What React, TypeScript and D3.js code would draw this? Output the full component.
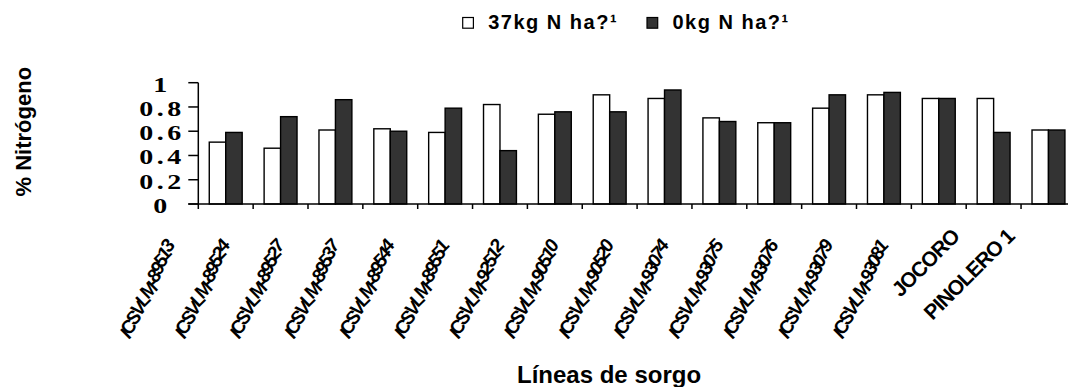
import React from "react";
import * as d3 from "d3";

const categories = [
  "ICSVLM-89513", "ICSVLM-89524", "ICSVLM-89527", "ICSVLM-89537",
  "ICSVLM-89544", "ICSVLM-89551", "ICSVLM-92512", "ICSVLM-90510",
  "ICSVLM-90520", "ICSVLM-93074", "ICSVLM-93075", "ICSVLM-93076",
  "ICSVLM-93079", "ICSVLM-93081", "JOCORO", "PINOLERO 1",
];
const n37 = [0.51, 0.46, 0.61, 0.62, 0.59, 0.82, 0.74, 0.90, 0.87, 0.71, 0.67, 0.79, 0.90, 0.87, 0.87, 0.61];
const n0 = [0.59, 0.72, 0.86, 0.60, 0.79, 0.44, 0.76, 0.76, 0.94, 0.68, 0.67, 0.90, 0.92, 0.87, 0.59, 0.61];
const seriesKeys = ["n37", "n0"];
const seriesNames = ["37kg N ha?¹", "0kg N ha?¹"];
const seriesFill = ["#ffffff", "#333333"];
const yTicks = [0, 0.2, 0.4, 0.6, 0.8, 1];
const yTickLabels = ["0", "0.2", "0.4", "0.6", "0.8", "1"];

const W = 1068;
const H = 387;
const axisX = 198.3;
const axisY = 204;
const topY = 82.7;
const step = 54.85;

export default function App() {
  const x0 = d3
    .scaleBand<string>()
    .domain(categories)
    .range([axisX, axisX + step * categories.length])
    .paddingInner(0.4)
    .paddingOuter(0.2);
  const x1 = d3.scaleBand<string>().domain(seriesKeys).range([0, x0.bandwidth()]);
  const y = d3.scaleLinear().domain([0, 1]).range([axisY, topY]);
  const values: Record<string, number[]> = { n37, n0 };
  const tickXs = d3.range(categories.length + 1).map((i) => axisX + i * x0.step());

  const sans = "'Liberation Sans', Arial, sans-serif";
  const serif = "'Liberation Serif', 'Times New Roman', serif";

  // crowded labels: glyphs at 45°, each glyph lifted a bit so the run climbs steeper
  const dyStep = -3.0;

  return (
    <svg width={W} height={H} style={{ position: "absolute", left: 0, top: 0 }}>
      <rect width={W} height={H} fill="#fff" />
      {/* bars */}
      {categories.map((c, i) => (
        <g key={c}>
          {seriesKeys.map((k, j) => (
            <rect
              key={k}
              x={(x0(c) as number) + (x1(k) as number)}
              y={y(values[k][i])}
              width={x1.bandwidth()}
              height={axisY - y(values[k][i])}
              fill={seriesFill[j]}
              stroke="#000"
              strokeWidth={1.4}
            />
          ))}
        </g>
      ))}
      {/* y axis */}
      <line x1={axisX} x2={axisX} y1={y(0)} y2={y(1)} stroke="#000" strokeWidth={1.5} />
      {yTicks.map((t, i) => (
        <g key={t}>
          <line x1={axisX - 10} x2={axisX} y1={y(t)} y2={y(t)} stroke="#000" strokeWidth={1.5} />
          <text
            transform={`translate(162,${y(t) + 2}) scale(1.4,1)`}
            textAnchor="middle"
            dominantBaseline="central"
            fontFamily={serif}
            fontWeight="bold"
            fontSize={20}
            letterSpacing={2.5}
          >
            {yTickLabels[i]}
          </text>
        </g>
      ))}
      {/* x axis */}
      <line x1={axisX - 10} x2={W} y1={axisY} y2={axisY} stroke="#000" strokeWidth={1.5} />
      {tickXs.map((tx, i) => (
        <line key={i} x1={tx} x2={tx} y1={axisY} y2={axisY + 5} stroke="#000" strokeWidth={1.5} />
      ))}
      {categories.map((c) => {
        const cx = (x0(c) as number) + x0.bandwidth() / 2;
        const crowded = c.startsWith("ICSVLM");
        if (crowded) {
          const n = c.length;
          const lift = -dyStep * (n - 1) * Math.SQRT1_2;
          const dys = Array.from({ length: n }, (_, k) => (k === 0 ? 0 : dyStep)).join(" ");
          return (
            <text
              key={c}
              transform={`translate(${cx - 51.6 + lift},${axisY + 44 + lift}) rotate(-45)`}
              dy={dys}
              textAnchor="end"
              fontFamily={sans}
              fontWeight="bold"
              fontSize={19}
              letterSpacing={-2.8}
            >
              {c}
            </text>
          );
        }
        return (
          <text
            key={c}
            transform={`translate(${cx - 33},${axisY + 34}) rotate(-45)`}
            textAnchor="end"
            fontFamily={sans}
            fontWeight="bold"
            fontSize={21}
            letterSpacing={-1}
          >
            {c}
          </text>
        );
      })}
      {/* axis titles */}
      <text
        transform={`translate(31,131.7) rotate(-90)`}
        textAnchor="middle"
        fontFamily={sans}
        fontWeight="bold"
        fontSize={22}
      >
        % Nitrógeno
      </text>
      <text x={517} y={383} fontFamily={sans} fontWeight="bold" fontSize={24}>
        Líneas de sorgo
      </text>
      {/* legend */}
      {seriesNames.map((name, j) => {
        const lx = j === 0 ? 462.7 : 647;
        return (
          <g key={name}>
            <rect x={lx} y={17.5} width={10.7} height={10.7} fill={seriesFill[j]} stroke="#000" strokeWidth={1.2} />
            <text
              x={lx + 25.5}
              y={28.5}
              fontFamily={sans}
              fontWeight="bold"
              fontSize={20}
              letterSpacing={1.5}
            >
              {name}
            </text>
          </g>
        );
      })}
    </svg>
  );
}
